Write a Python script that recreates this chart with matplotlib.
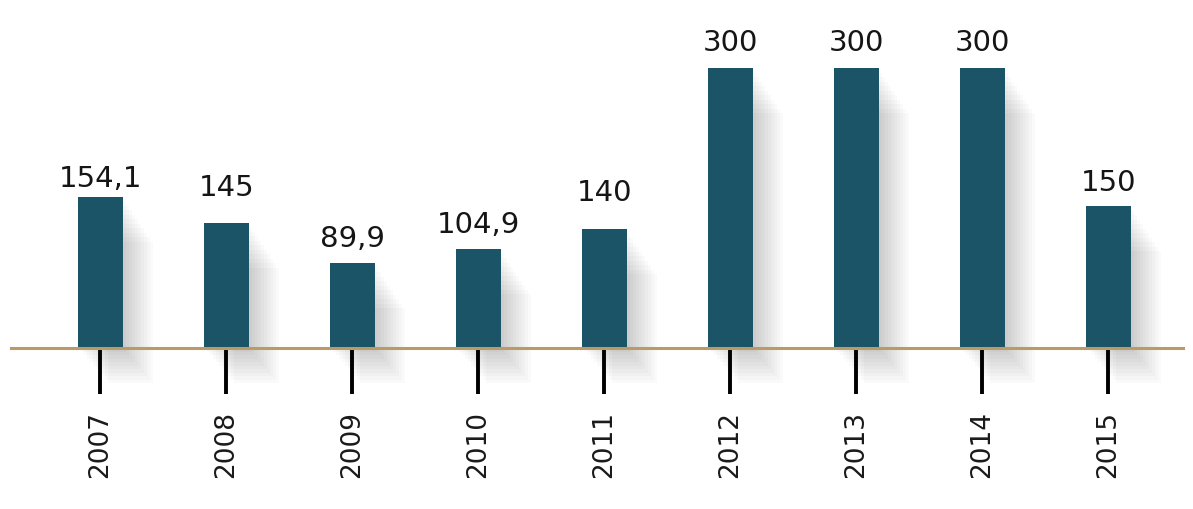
import matplotlib
matplotlib.use("Agg")
import matplotlib.pyplot as plt
from matplotlib import font_manager
from matplotlib.patches import Rectangle

years = ["2007", "2008", "2009", "2010", "2011", "2012", "2013", "2014", "2015"]
values = [154.1, 145, 89.9, 104.9, 140, 300, 300, 300, 150]
value_labels = ["154,1", "145", "89,9", "104,9", "140", "300", "300", "300", "150"]
# heights of the bars as they are drawn in the source chart
bar_heights = [162, 134, 91, 106, 127.5, 300, 300, 300, 152]

bar_color = "#1a5466"
axis_color = "#b99b68"

fig = plt.figure(figsize=(11.93, 5.10), dpi=100)
ax = fig.add_axes([11 / 1193, 0, 1172 / 1193, 1])

# pixel scales: 126 px between bars, 280 px for 300 units
px_x = 1 / 126.0
px_y = 300 / 280.0
ax.set_xlim((11 - 100.3) * px_x, (1183 - 100.3) * px_x)
ax.set_ylim(-(510 - 349) * px_y, 349 * px_y)

w = 45 * px_x
xs = list(range(len(years)))

# soft drop shadow to the right of each bar
for x, h in zip(xs, bar_heights):
    for k in range(1, 11):
        ax.add_patch(Rectangle((x - w / 2 + 3 * k * px_x, -3.5 * k * px_y),
                               w, h - 4.5 * k * px_y + 3.5 * k * px_y,
                               facecolor="black", alpha=0.018, lw=0, zorder=1))

ax.bar(xs, bar_heights, width=w, color=bar_color, zorder=2)

for x, v, lab in zip(xs, values, value_labels):
    ax.annotate(lab, (x, v), xytext=(0, 8.5), textcoords="offset points",
                ha="center", va="bottom", fontsize=21, color="#151515",
                family="DejaVu Sans", zorder=3)

for s in ["top", "left", "right"]:
    ax.spines[s].set_visible(False)
ax.spines["bottom"].set_position(("data", 0))
ax.spines["bottom"].set_color(axis_color)
ax.spines["bottom"].set_linewidth(2.2)
ax.spines["bottom"].set_zorder(4)

names = {f.name for f in font_manager.fontManager.ttflist}
if "Liberation Sans Narrow" in names:
    yfont, ysize = "Liberation Sans Narrow", 26
else:
    yfont, ysize = "DejaVu Sans", 19

ax.set_xticks(xs)
ax.set_xticklabels(years, rotation=90, family=yfont, fontsize=ysize, color="#1a1a1a")
ax.tick_params(axis="x", direction="out", length=33, width=2.8, color="black", pad=12)
ax.set_yticks([])
ax.patch.set_alpha(0)

fig.savefig("out.png", dpi=100)
